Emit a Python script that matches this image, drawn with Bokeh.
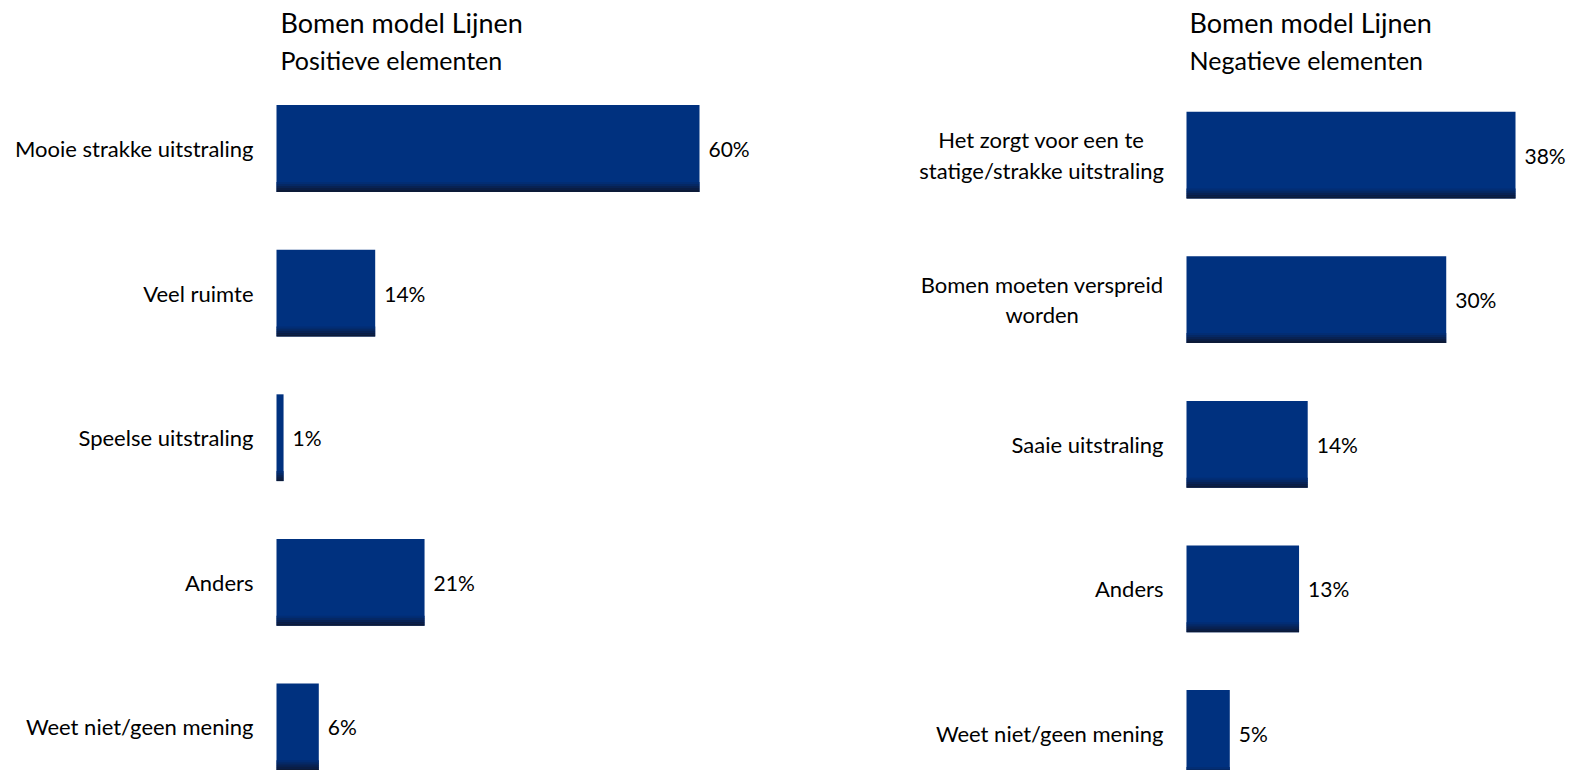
from bokeh.plotting import figure
from bokeh.layouts import row
from bokeh.models import ColumnDataSource, Range1d
from bokeh.core.properties import value
from bokeh.embed import file_html
from bokeh.resources import INLINE

title = "Bomen model Lijnen"
pos_subtitle = "Positieve elementen"
pos_categories = ["Mooie strakke uitstraling", "Veel ruimte", "Speelse uitstraling",
                  "Anders", "Weet niet/geen mening"]
pos_values = [60, 14, 1, 21, 6]

neg_subtitle = "Negatieve elementen"
neg_categories = ["Het zorgt voor een te\nstatige/strakke uitstraling",
                  "Bomen moeten verspreid\nworden", "Saaie uitstraling",
                  "Anders", "Weet niet/geen mening"]
neg_values = [38, 30, 14, 13, 5]

FONT = "Lato"
BAR = "#00317f"
SHADE = ["#022d74", "#052864", "#082253", "#0a1d44", "#0c1a38"]
HEIGHT = 770
LABEL_PX = 22

# approximate Lato advance widths (em) used only to centre multi-line labels
_W = dict(a=.51, b=.56, c=.46, d=.56, e=.52, f=.33, g=.50, h=.56, i=.24, j=.24,
          k=.50, l=.24, m=.84, n=.56, o=.56, p=.56, r=.37, s=.42, t=.36, u=.56,
          v=.50, w=.77, z=.44)
_W.update({" ": .26, "/": .37, "H": .70, "B": .61, "S": .47})


def text_width(t, px):
    return sum(_W.get(ch, .55) for ch in t) * px


def panel(width, x0_px, ppu, y0_px, step, cats, vals, subtitle, title_x):
    xs = -x0_px / ppu
    xe = xs + width / ppu
    ytop = -y0_px / step
    ybot = ytop + HEIGHT / step
    p = figure(width=width, height=HEIGHT, x_range=Range1d(xs, xe),
               y_range=Range1d(ybot, ytop), output_backend="svg",
               toolbar_location=None, min_border=0,
               x_axis_location=None, y_axis_location=None)
    p.grid.visible = False
    p.outline_line_color = None
    p.background_fill_color = "white"

    idx = list(range(len(cats)))
    src = ColumnDataSource(dict(
        y=idx, v=vals, zero=[0] * len(vals), cat=cats,
        lab=[f"{v}%" for v in vals]))
    bh = 0.6
    p.hbar(y="y", left="zero", right="v", height=bh, source=src,
           fill_color=BAR, line_color=None)
    s = 2.0 / step
    for k, c in enumerate(SHADE):
        ys = [i + bh / 2 - (len(SHADE) - k - 0.5) * s for i in idx]
        p.hbar(y=ys, left=0, right=vals, height=s, fill_color=c, line_color=None)

    p.text(x="v", y="y", text="lab", source=src, x_offset=9,
           text_align="left", text_baseline="middle",
           text_font=value(FONT), text_font_size="21px", text_color="black")

    single = [i for i in idx if "\n" not in cats[i]]
    multi = [i for i in idx if "\n" in cats[i]]
    p.text(x=[0] * len(single), y=single, text=[cats[i] for i in single],
           x_offset=-23, text_align="right", text_baseline="middle",
           text_font=value(FONT), text_font_size=f"{LABEL_PX}px", text_color="black")
    for i in multi:
        longest = max(text_width(t, LABEL_PX) for t in cats[i].split("\n"))
        p.text(x=[0], y=[i], text=[cats[i]], x_offset=-(23 + longest / 2),
               text_align="center", text_baseline="middle",
               text_line_height=1.12,
               text_font=value(FONT), text_font_size=f"{LABEL_PX}px", text_color="black")

    tx = xs + title_x / ppu
    p.text(x=[tx], y=[ytop + 22 / step], text=[title], text_align="left",
           text_baseline="middle", text_font=value(FONT),
           text_font_size="27px", text_color="black")
    p.text(x=[tx], y=[ytop + 59 / step], text=[subtitle], text_align="left",
           text_baseline="middle", text_font=value(FONT),
           text_font_size="25px", text_color="black")
    return p


W1 = 888
left = panel(W1, 276, (699 - 276) / 60, 148, 144.6, pos_categories, pos_values,
             pos_subtitle, 280)
right = panel(680, 1186 - W1, (1515 - 1186) / 38, 154.6, 144.6, neg_categories,
              neg_values, neg_subtitle, 1189 - W1)

layout = row(left, right, spacing=0)
open("out.html", "w").write(file_html(layout, INLINE))
